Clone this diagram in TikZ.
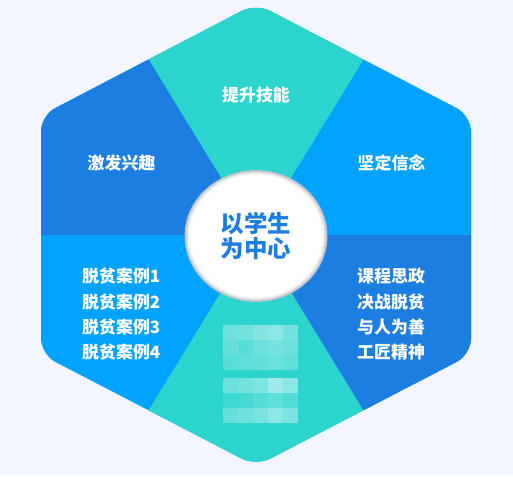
\documentclass[tikz,border=0pt]{standalone}
\usepackage{fontspec}
\newfontfamily\cjk{Noto Sans CJK SC}
\definecolor{bgc}{HTML}{F3F6FE}
\definecolor{hexteal}{HTML}{2BD4CD}
\definecolor{hexdark}{HTML}{1B7EE0}
\definecolor{hexbright}{HTML}{02A3FE}
\definecolor{rimgray}{HTML}{B9BEC7}
\begin{document}
\begin{tikzpicture}[x=1bp,y=-1bp,
  lab/.style={text=white,font=\cjk\bfseries\fontsize{17}{20}\selectfont,inner sep=0pt},
  hubtext/.style={text=hexdark,font=\cjk\bfseries\fontsize{23.5}{26}\selectfont,align=center,inner sep=0pt}]
\useasboundingbox (0,0) rectangle (513,477);
\fill[bgc] (0,0) rectangle (513,477);
\fill[white] (0,475) rectangle (513,477);
\coordinate (C) at (256,235);
\coordinate (T) at (256,3.5);
\coordinate (UL) at (41,115.5);
\coordinate (LL) at (41,354.5);
\coordinate (B) at (256,466);
\coordinate (LR) at (471,354.5);
\coordinate (UR) at (471,115.5);
\coordinate (mL) at (41,235);
\coordinate (mUL) at (148.5,59.5);
\coordinate (mUR) at (363.5,59.5);
\coordinate (mR) at (471,235);
\coordinate (mLR) at (363.5,410.5);
\coordinate (mLL) at (148.5,410.5);
\begin{scope}
\clip[rounded corners=16bp] (mL) -- (UL) -- (T) -- (UR) -- (mR) -- (LR) -- (B) -- (LL) -- cycle;
\fill[hexbright] (0,0) rectangle (513,477);
\fill[hexteal] (C) -- (mUL) -- (T) -- (mUR) -- cycle;
\fill[hexdark] (C) -- (mL) -- (UL) -- (mUL) -- cycle;
\fill[hexdark] (C) -- (mR) -- (LR) -- (mLR) -- cycle;
\fill[hexteal] (C) -- (mLR) -- (B) -- (mLL) -- cycle;
\end{scope}
% mosaic (pixelated area)
\foreach \y/\ops in {325/{.32,.35,.42,.45,.35},340/{.28,.22,.3,.35,.3},355/{.22,.25,.28,.3,.25},378/{.3,.35,.4,.55,.45},393/{.1,.12,.2,.25,.18},408/{.28,.32,.38,.45,.38}}{
  \foreach \o [count=\i from 0] in \ops {
    \fill[white,opacity=\o] ({223+15*\i},\y) rectangle ++(15,15);
  }
}
% hub
\foreach \k/\m in {0/100,1/75,2/50,3/28,4/12}{
  \fill[rimgray!\m!white] (256,236) ellipse [x radius={71.5-\k}, y radius={66-\k}];
}
\fill[white] (256,236) ellipse [x radius=66.5, y radius=61];
\node[hubtext] (hub) at (256,236) {以学生\\为中心};
% labels
\node[lab] (top) at (256,95) {提升技能};
\node[lab] (ul) at (121.5,163) {激发兴趣};
\node[lab] (ur) at (391.5,163) {坚定信念};
\node[lab,anchor=west] (l1) at (82,276) {脱贫案例1};
\node[lab,anchor=west] (l2) at (82,302) {脱贫案例2};
\node[lab,anchor=west] (l3) at (82,327) {脱贫案例3};
\node[lab,anchor=west] (l4) at (82,352) {脱贫案例4};
\node[lab,anchor=west] (r1) at (357,276) {课程思政};
\node[lab,anchor=west] (r2) at (357,302) {决战脱贫};
\node[lab,anchor=west] (r3) at (357,327) {与人为善};
\node[lab,anchor=west] (r4) at (357,352) {工匠精神};
\end{tikzpicture}
\end{document}
